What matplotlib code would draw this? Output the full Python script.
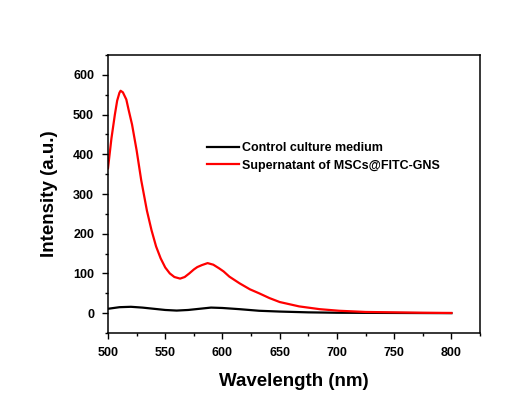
import matplotlib
matplotlib.use("Agg")
import matplotlib.pyplot as plt
from matplotlib.ticker import MultipleLocator

# spectra
wl_sup = [500, 503, 506, 508, 510, 511, 513, 516, 518, 521, 525, 529, 534, 538,
          542, 546, 550, 554, 558, 563, 567, 571, 575, 578, 582, 587, 592, 597,
          601, 606, 615, 624, 632, 641, 650, 667, 685, 702, 725, 750, 775, 800]
int_sup = [365, 440, 500, 535, 555, 560, 556, 538, 512, 475, 410, 335, 258, 209,
           168, 138, 115, 100, 91, 87, 91, 100, 110, 116, 121, 126, 122, 113,
           105, 92, 75, 60, 50, 38, 28, 17, 10, 6, 3, 2, 1, 0.5]

wl_ctrl = [500, 510, 520, 530, 540, 550, 560, 570, 580, 590, 600, 615, 632,
           650, 675, 700, 750, 800]
int_ctrl = [11, 15, 16, 14, 11, 8, 6.5, 8, 11, 14, 13, 10, 6, 4, 2, 1, 0.5, 0]

labels = ["Control culture medium", "Supernatant of MSCs@FITC-GNS"]

plt.rcParams['font.family'] = ['Liberation Sans', 'DejaVu Sans']
plt.rcParams['font.weight'] = 'bold'

fig = plt.figure(figsize=(5.2, 4.09), dpi=100)
ax = fig.add_axes([0.2077, 0.1858, 0.7154, 0.6797])

ax.plot(wl_ctrl, int_ctrl, color='black', lw=1.6, label=labels[0])
ax.plot(wl_sup, int_sup, color='#ff0000', lw=1.6, label=labels[1])

ax.set_xlim(500, 825)
ax.set_ylim(-50, 650)
ax.xaxis.set_major_locator(MultipleLocator(50))
ax.xaxis.set_minor_locator(MultipleLocator(25))
ax.yaxis.set_major_locator(MultipleLocator(100))
ax.yaxis.set_minor_locator(MultipleLocator(50))
ax.set_xticks(range(500, 801, 50))
ax.tick_params(which='major', length=4, width=1, labelsize=9, pad=6, direction='out')
ax.tick_params(which='minor', length=2, width=1, direction='out')
for lab in ax.get_xticklabels() + ax.get_yticklabels():
    lab.set_fontweight('bold')
for sp in ax.spines.values():
    sp.set_linewidth(1.1)

ax.set_xlabel("Wavelength (nm)", fontsize=13.5, fontweight='bold', labelpad=10.5)
ax.set_ylabel("Intensity (a.u.)", fontsize=13.5, fontweight='bold', labelpad=10.5)

ax.legend(loc='upper left', bbox_to_anchor=(0.265, 0.687), frameon=False,
          prop={'weight': 'bold', 'size': 9}, handlelength=2.6,
          handletextpad=0.25, borderpad=0, borderaxespad=0, labelspacing=0.45)

fig.savefig("out.png", dpi=100)
